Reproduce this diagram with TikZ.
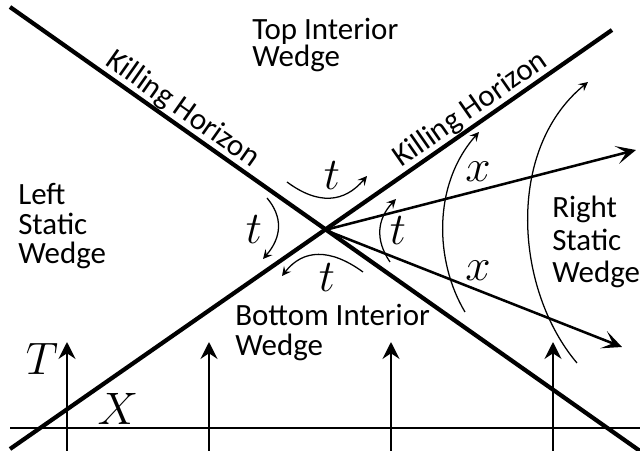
\documentclass[tikz,border=0pt]{standalone}
\usepackage{fontspec}
\setmainfont{Carlito}
\usetikzlibrary{arrows.meta}
\newcommand{\bigsym}[1]{\scalebox{1.3}{$#1$}}

\begin{document}
\begin{tikzpicture}[x=0.025cm, y=-0.025cm,
    hline/.style={line width=3pt},
    ray/.style={-{Stealth[length=14pt, width=13pt, inset=7pt]}, line width=1.8pt},
    tarr/.style={-{Stealth[length=12pt, width=12pt, inset=4pt]}, line width=1.9pt},
    flow/.style={-{Stealth[length=6.5pt, width=6.5pt, inset=2.5pt]}, line width=0.9pt},
    wedge/.style={align=left, inner sep=0pt, anchor=north west,
                  font=\fontsize{22}{21}\selectfont},
    killing/.style={sloped, anchor=south, inner sep=0pt,
                    font=\fontsize{22}{26}\selectfont},
    sym/.style={inner sep=0pt, font=\fontsize{24.88}{30}\selectfont}
  ]
  \useasboundingbox (0,0) rectangle (640,451);

  % horizons
  \coordinate (o)   at (325,230);
  \coordinate (hl1) at (10,7);
  \coordinate (hr1) at (640,451);
  \coordinate (hl2) at (10,449);
  \coordinate (hr2) at (612,30);
  \draw[hline] (hl1) -- node[killing, pos=0.26] {Killing Horizon} (hr1);
  \draw[hline] (hl2) -- node[killing, pos=0.78] {Killing Horizon} (hr2);

  % rays out of the bifurcation point
  \coordinate (r1) at (636,150);
  \coordinate (r2) at (622,347);
  \draw[ray] (o) -- (r1);
  \draw[ray] (o) -- (r2);

  % X axis and T arrows
  \coordinate (ax0) at (10,428);
  \coordinate (ax1) at (640,428);
  \draw[line width=1.9pt] (ax0) -- (ax1);
  \foreach \x [count=\i] in {67,209,391,553}{
    \coordinate (b\i) at (\x,451);
    \coordinate (u\i) at (\x,342);
    \draw[tarr] (b\i) -- (u\i);
  }
  \node[sym] (T) at (42,359) {\bigsym{T}};
  \node[sym] (X) at (118,409) {\bigsym{X}};

  % boost flow, t
  \coordinate (ta0) at (287,182); \coordinate (ta1) at (367,176);
  \coordinate (tb0) at (267,198); \coordinate (tb1) at (263,259);
  \coordinate (tc0) at (363,272); \coordinate (tc1) at (282,276);
  \coordinate (td0) at (390,262); \coordinate (td1) at (396,199);
  \draw[flow] (ta0) .. controls (318,205) and (344,203) .. (ta1);
  \draw[flow] (tb0) .. controls (283,217) and (282,237) .. (tb1);
  \draw[flow] (tc0) .. controls (330,248) and (303,249) .. (tc1);
  \draw[flow] (td0) .. controls (375,240) and (377,219) .. (td1);
  \node[sym] (ta) at (332,176) {\bigsym{t}};
  \node[sym] (tb) at (254,230) {\bigsym{t}};
  \node[sym] (tc) at (327,278) {\bigsym{t}};
  \node[sym] (td) at (398,231) {\bigsym{t}};

  % x flow
  \coordinate (xa0) at (465,312); \coordinate (xa1) at (479,132);
  \coordinate (xb0) at (577,363); \coordinate (xb1) at (588,82);
  \draw[flow] (xa0) .. controls (435,262) and (432,185) .. (xa1);
  \draw[flow] (xb0) .. controls (515,290) and (505,150) .. (xb1);
  \node[sym] (xa) at (478,172) {\bigsym{x}};
  \node[sym] (xb) at (478,271) {\bigsym{x}};

  % wedges
  \node[wedge, font=\fontsize{22}{19.5}\selectfont] (top) at (252,18)
        {Top Interior\\Wedge};
  \node[wedge] (left) at (18,183) {Left\\Static\\Wedge};
  \node[wedge, font=\fontsize{22}{23}\selectfont] (right) at (552,196)
        {Right\\Static\\Wedge};
  \node[wedge] (bottom) at (235,304) {Bottom Interior\\Wedge};
\end{tikzpicture}
\end{document}
